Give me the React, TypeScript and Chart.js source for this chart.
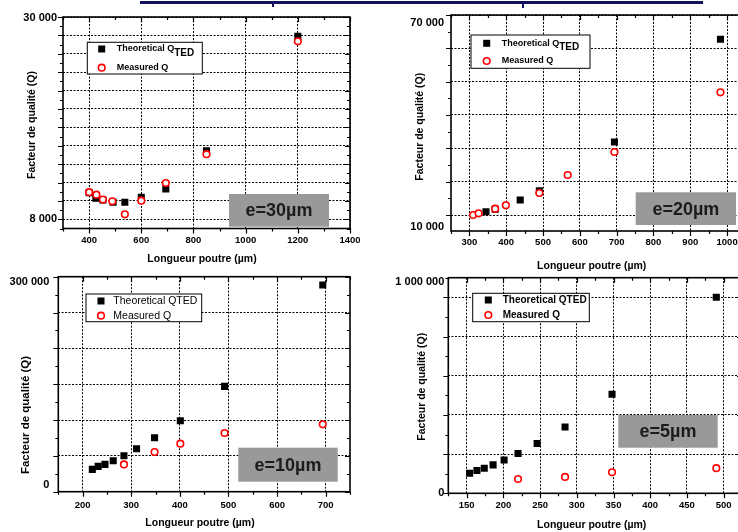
import React, { useEffect, useRef } from "react";
import { Chart, registerables } from "chart.js";

Chart.register(...registerables);

const FONT = "'Liberation Sans', Arial, Helvetica, sans-serif";

// ---------------- data ----------------
const seriesNames = ["Theoretical Q", "Measured Q"];
const xTitleText = "Longueur poutre (µm)";
const yTitleText = "Facteur de qualité (Q)";

// e = 30 µm
const q30TheoLength = [400, 426, 453, 492, 537, 600, 694, 850, 1200];
const q30TheoQ = [10900, 10290, 10100, 9850, 9850, 10400, 11300, 15440, 27890];
const q30MeasLength = [400, 428, 453, 489, 537, 600, 694, 850, 1200];
const q30MeasQ = [10950, 10680, 10150, 9960, 8540, 10030, 11950, 15080, 27350];
const q30YLabelValues = [8000, 30000];
const q30YLabelTexts = ["8 000", "30 000"];

// e = 20 µm
const q20TheoLength = [345, 370, 438, 490, 694, 982];
const q20TheoQ = [11000, 11700, 14500, 17300, 31900, 62700];
const q20MeasLength = [310, 325, 370, 399, 490, 567, 694, 982];
const q20MeasQ = [10000, 10500, 11900, 12900, 16600, 22000, 28900, 46800];
const q20YLabelValues = [10000, 70000];
const q20YLabelTexts = ["10 000", "70 000"];

// e = 10 µm
const q10TheoLength = [220, 232, 246, 263, 285, 311, 348, 401, 492, 694];
const q10TheoQ = [31200, 35300, 38100, 43300, 50200, 60000, 75300, 99000, 147000, 288400];
const q10MeasLength = [285, 348, 401, 492, 694];
const q10MeasQ = [38100, 55300, 67000, 81900, 94000];
const q10YLabelValues = [0, 300000];
const q10YLabelTexts = ["0", "300 000"];

// e = 5 µm
const q5TheoLength = [154, 164, 174, 186, 201, 220, 246, 284, 348, 490];
const q5TheoQ = [102000, 116000, 128000, 145000, 170000, 203000, 254000, 338000, 505000, 1000000];
const q5MeasLength = [220, 284, 348, 490];
const q5MeasQ = [73000, 83500, 107000, 128000];
const q5YLabelValues = [0, 1000000];
const q5YLabelTexts = ["0", "1 000 000"];

// ---------------- helpers ----------------
function range(a: number, b: number, s: number): number[] {
  const out: number[] = [];
  const n = Math.round((b - a) / s);
  for (let i = 0; i <= n; i++) out.push(a + i * s);
  return out;
}
function isMajor(v: number, start: number, step: number) {
  if (v < start - 1e-9) return false;
  const k = (v - start) / step;
  return Math.abs(k - Math.round(k)) < 1e-6;
}

interface PanelCfg {
  canvas: { left: number; top: number; width: number; height: number };
  area: { left: number; top: number; right: number; bottom: number };
  xMin: number; xMax: number; xTicks: number[]; xMajorStart: number; xMajorStep: number; xLabelPad: number;
  yMin: number; yMax: number; yTicks: number[]; yMajorStart: number; yMajorStep: number;
  yLabelValues: number[]; yLabelTexts: string[]; yLabelNudge: number[]; yLabelGap: number;
  theoX: number[]; theoY: number[]; measX: number[]; measY: number[];
  legend: { box: number[]; markX: number; row1: number; row2: number; textX: number; bold: boolean; size: number; sub: boolean };
  tag: { text: string; box: number[] };
  xTitle: number[]; yTitle: number[]; yTitleSize: number;
}

const panels: PanelCfg[] = [
  {
    canvas: { left: 0, top: 0, width: 370, height: 276 },
    area: { left: 63, top: 17, right: 350, bottom: 228.5 },
    xMin: 300, xMax: 1400, xTicks: range(300, 1400, 100), xMajorStart: 400, xMajorStep: 200, xLabelPad: 6,
    yMin: 7000, yMax: 30000, yTicks: range(7000, 30000, 1000), yMajorStart: 8000, yMajorStep: 2000,
    yLabelValues: q30YLabelValues, yLabelTexts: q30YLabelTexts, yLabelNudge: [0, 1], yLabelGap: 6,
    theoX: q30TheoLength, theoY: q30TheoQ, measX: q30MeasLength, measY: q30MeasQ,
    legend: { box: [87.3, 42.3, 202.3, 74], markX: 101.7, row1: 49, row2: 67.7, textX: 116.7, bold: true, size: 9, sub: true },
    tag: { text: "e=30µm", box: [229, 194, 329, 226.7] },
    xTitle: [202, 259], yTitle: [32, 125], yTitleSize: 10.5,
  },
  {
    canvas: { left: 370, top: 0, width: 390, height: 276 },
    area: { left: 451, top: 15, right: 745.5, bottom: 231 },
    xMin: 250, xMax: 1050, xTicks: range(250, 1050, 50), xMajorStart: 300, xMajorStep: 100, xLabelPad: 6,
    yMin: 5200, yMax: 70000, yTicks: range(10000, 70000, 5000), yMajorStart: 10000, yMajorStep: 10000,
    yLabelValues: q20YLabelValues, yLabelTexts: q20YLabelTexts, yLabelNudge: [12, 8], yLabelGap: 7,
    theoX: q20TheoLength, theoY: q20TheoQ, measX: q20MeasLength, measY: q20MeasQ,
    legend: { box: [471, 35, 590, 68.3], markX: 486.7, row1: 43.3, row2: 61, textX: 501.7, bold: true, size: 9, sub: true },
    tag: { text: "e=20µm", box: [635.7, 192.3, 736, 225] },
    xTitle: [591.7, 265.7], yTitle: [420, 126.7], yTitleSize: 10.5,
  },
  {
    canvas: { left: 0, top: 265, width: 370, height: 267 },
    area: { left: 58.3, top: 276.7, right: 350, bottom: 491.7 },
    xMin: 150, xMax: 750, xTicks: range(150, 750, 50), xMajorStart: 200, xMajorStep: 100, xLabelPad: 7.5,
    yMin: 0, yMax: 300000, yTicks: range(0, 300000, 25000), yMajorStart: 0, yMajorStep: 50000,
    yLabelValues: q10YLabelValues, yLabelTexts: q10YLabelTexts, yLabelNudge: [-6.5, 5.5], yLabelGap: 9,
    theoX: q10TheoLength, theoY: q10TheoQ, measX: q10MeasLength, measY: q10MeasQ,
    legend: { box: [86, 294, 201.7, 321.7], markX: 101, row1: 301, row2: 315.7, textX: 113.3, bold: false, size: 10.5, sub: false },
    tag: { text: "e=10µm", box: [238.3, 447.7, 337.7, 481.7] },
    xTitle: [200, 522.7], yTitle: [26, 415], yTitleSize: 11.5,
  },
  {
    canvas: { left: 370, top: 265, width: 390, height: 267 },
    area: { left: 448.3, top: 277.7, right: 742, bottom: 493.3 },
    xMin: 125, xMax: 525, xTicks: range(125, 525, 25), xMajorStart: 150, xMajorStep: 50, xLabelPad: 6,
    yMin: 0, yMax: 1100000, yTicks: range(0, 1100000, 100000), yMajorStart: 0, yMajorStep: 200000,
    yLabelValues: q5YLabelValues, yLabelTexts: q5YLabelTexts, yLabelNudge: [0, -15.5], yLabelGap: 4,
    theoX: q5TheoLength, theoY: q5TheoQ, measX: q5MeasLength, measY: q5MeasQ,
    legend: { box: [472.7, 293.3, 589.3, 321.7], markX: 488.3, row1: 300, row2: 315, textX: 502.7, bold: true, size: 10, sub: false },
    tag: { text: "e=5µm", box: [618.3, 415, 717.7, 447.7] },
    xTitle: [591.7, 525], yTitle: [421.7, 386.7], yTitleSize: 10.5,
  },
];

function makeDecor(p: PanelCfg) {
  const ox = p.canvas.left;
  const oy = p.canvas.top;
  return {
    id: "decor",
    afterDatasetsDraw(chart: any) {
      const ctx: CanvasRenderingContext2D = chart.ctx;
      ctx.save();
      // legend
      const L = p.legend;
      const [bx1, by1, bx2, by2] = L.box;
      ctx.fillStyle = "#ffffff";
      ctx.fillRect(bx1 - ox, by1 - oy, bx2 - bx1, by2 - by1);
      ctx.strokeStyle = "#000";
      ctx.lineWidth = 1;
      ctx.strokeRect(bx1 - ox, by1 - oy, bx2 - bx1, by2 - by1);
      ctx.fillStyle = "#000";
      ctx.fillRect(L.markX - ox - 3.5, L.row1 - oy - 3.5, 7, 7);
      ctx.beginPath();
      ctx.arc(L.markX - ox, L.row2 - oy, 3.3, 0, Math.PI * 2);
      ctx.fillStyle = "#fff";
      ctx.fill();
      ctx.strokeStyle = "#ff0000";
      ctx.lineWidth = 1.6;
      ctx.stroke();
      const w = L.bold ? "bold " : "";
      ctx.font = `${w}${L.size}px ${FONT}`;
      ctx.fillStyle = "#000";
      ctx.textAlign = "left";
      ctx.textBaseline = "middle";
      if (L.sub) {
        ctx.fillText(seriesNames[0], L.textX - ox, L.row1 - oy);
        const tw = ctx.measureText(seriesNames[0]).width;
        ctx.font = `${w}${L.size + 1}px ${FONT}`;
        ctx.fillText("TED", L.textX - ox + tw, L.row1 - oy + 4);
      } else {
        ctx.fillText(seriesNames[0] + "TED", L.textX - ox, L.row1 - oy);
      }
      ctx.font = `${w}${L.size}px ${FONT}`;
      ctx.fillText(seriesNames[1], L.textX - ox, L.row2 - oy);
      // tag
      const [tx1, ty1, tx2, ty2] = p.tag.box;
      ctx.fillStyle = "#999999";
      ctx.fillRect(tx1 - ox, ty1 - oy, tx2 - tx1, ty2 - ty1);
      ctx.fillStyle = "#1c1c1c";
      ctx.font = `bold 18px ${FONT}`;
      ctx.textAlign = "center";
      ctx.fillText(p.tag.text, (tx1 + tx2) / 2 - ox, (ty1 + ty2) / 2 - oy + 1);
      ctx.restore();
    },
    afterDraw(chart: any) {
      const ctx: CanvasRenderingContext2D = chart.ctx;
      const a = chart.chartArea;
      const xs = chart.scales.x;
      const ys = chart.scales.y;
      ctx.save();
      ctx.strokeStyle = "#000";
      // ticks
      ctx.lineWidth = 1.2;
      ctx.beginPath();
      for (const v of p.xTicks) {
        const px = Math.round(xs.getPixelForValue(v)) + 0.5;
        const len = isMajor(v, p.xMajorStart, p.xMajorStep) ? 5 : 3;
        ctx.moveTo(px, a.bottom);
        ctx.lineTo(px, a.bottom + len);
        ctx.moveTo(px, a.top);
        ctx.lineTo(px, a.top + len);
      }
      for (const v of p.yTicks) {
        const py = Math.round(ys.getPixelForValue(v)) + 0.5;
        const len = isMajor(v, p.yMajorStart, p.yMajorStep) ? 5 : 3;
        ctx.moveTo(a.left - len, py);
        ctx.lineTo(a.left, py);
        ctx.moveTo(a.right - len, py);
        ctx.lineTo(a.right, py);
      }
      ctx.stroke();
      // frame
      ctx.lineWidth = 1.6;
      ctx.strokeRect(a.left, a.top, a.right - a.left, a.bottom - a.top);
      // y tick labels
      ctx.fillStyle = "#000";
      ctx.font = `bold 11px ${FONT}`;
      ctx.textAlign = "right";
      ctx.textBaseline = "middle";
      p.yLabelValues.forEach((v, i) => {
        const py = ys.getPixelForValue(v) + p.yLabelNudge[i];
        ctx.fillText(p.yLabelTexts[i], a.left - p.yLabelGap, py);
      });
      // titles
      ctx.font = `bold 10.5px ${FONT}`;
      ctx.textAlign = "center";
      ctx.fillText(xTitleText, p.xTitle[0] - ox, p.xTitle[1] - oy);
      ctx.translate(p.yTitle[0] - ox, p.yTitle[1] - oy);
      ctx.rotate(-Math.PI / 2);
      ctx.font = `bold ${p.yTitleSize}px ${FONT}`;
      ctx.fillText(yTitleText, 0, 0);
      ctx.restore();
    },
  };
}

function buildConfig(p: PanelCfg): any {
  const c = p.canvas;
  return {
    type: "scatter",
    data: {
      datasets: [
        {
          label: seriesNames[1],
          data: p.measX.map((x, i) => ({ x, y: p.measY[i] })),
          pointStyle: "circle",
          pointRadius: 3.3,
          pointBorderWidth: 1.6,
          pointBorderColor: "#ff0000",
          pointBackgroundColor: "#ffffff",
          showLine: false,
          order: 0,
        },
        {
          label: seriesNames[0],
          data: p.theoX.map((x, i) => ({ x, y: p.theoY[i] })),
          pointStyle: "rect",
          pointRadius: 5,
          pointBorderWidth: 0,
          pointBorderColor: "#000",
          pointBackgroundColor: "#000",
          showLine: false,
          order: 1,
        },
      ],
    },
    options: {
      responsive: false,
      animation: false,
      devicePixelRatio: 1,
      events: [],
      layout: {
        autoPadding: false,
        padding: { left: 0, top: p.area.top - c.top, right: c.left + c.width - p.area.right, bottom: 0 },
      },
      plugins: { legend: { display: false }, tooltip: { enabled: false }, title: { display: false } },
      scales: {
        x: {
          type: "linear",
          min: p.xMin,
          max: p.xMax,
          afterBuildTicks: (s: any) => {
            s.ticks = p.xTicks.map((v) => ({ value: v }));
          },
          afterFit: (s: any) => {
            s.height = c.top + c.height - p.area.bottom;
            s.paddingLeft = 0;
            s.paddingRight = 0;
            s.paddingTop = 0;
            s.paddingBottom = 0;
          },
          ticks: {
            autoSkip: false,
            maxRotation: 0,
            minRotation: 0,
            padding: p.xLabelPad,
            color: "#000",
            font: { family: FONT, size: 9.5, weight: "bold" },
            callback: (v: any) => (isMajor(Number(v), p.xMajorStart, p.xMajorStep) ? String(v) : ""),
          },
          grid: {
            display: true,
            drawTicks: false,
            lineWidth: 1,
            color: (ctx: any) =>
              ctx.tick && isMajor(ctx.tick.value, p.xMajorStart, p.xMajorStep) ? "#000" : "rgba(0,0,0,0)",
          },
          border: { display: false, dash: [2, 1.5] },
        },
        y: {
          type: "linear",
          min: p.yMin,
          max: p.yMax,
          afterBuildTicks: (s: any) => {
            s.ticks = p.yTicks.map((v) => ({ value: v }));
          },
          afterFit: (s: any) => {
            s.width = p.area.left - c.left;
            s.paddingLeft = 0;
            s.paddingRight = 0;
            s.paddingTop = 0;
            s.paddingBottom = 0;
          },
          ticks: { display: false, autoSkip: false },
          grid: {
            display: true,
            drawTicks: false,
            lineWidth: 1,
            color: (ctx: any) =>
              ctx.tick && isMajor(ctx.tick.value, p.yMajorStart, p.yMajorStep) ? "#000" : "rgba(0,0,0,0)",
          },
          border: { display: false, dash: [2, 1.5] },
        },
      },
    },
    plugins: [makeDecor(p)],
  };
}

function Panel({ cfg }: { cfg: PanelCfg }) {
  const ref = useRef<HTMLCanvasElement>(null);
  useEffect(() => {
    const el = ref.current;
    if (!el) return;
    const chart = new Chart(el, buildConfig(cfg));
    return () => chart.destroy();
  }, [cfg]);
  const { left, top, width, height } = cfg.canvas;
  return (
    <canvas
      ref={ref}
      width={width}
      height={height}
      style={{ position: "absolute", left, top, width, height, display: "block" }}
    />
  );
}

export default function App() {
  return (
    <div
      style={{
        position: "absolute",
        left: 0,
        top: 0,
        width: 738,
        height: 532,
        overflow: "hidden",
        background: "#ffffff",
      }}
    >
      <div style={{ position: "absolute", left: 140, top: 1, width: 563, height: 3, background: "#10105e" }} />
      <div style={{ position: "absolute", left: 272, top: 1, width: 2, height: 6, background: "#10105e" }} />
      <div style={{ position: "absolute", left: 522, top: 1, width: 2, height: 7, background: "#10105e" }} />
      {panels.map((p, i) => (
        <Panel key={i} cfg={p} />
      ))}
    </div>
  );
}
